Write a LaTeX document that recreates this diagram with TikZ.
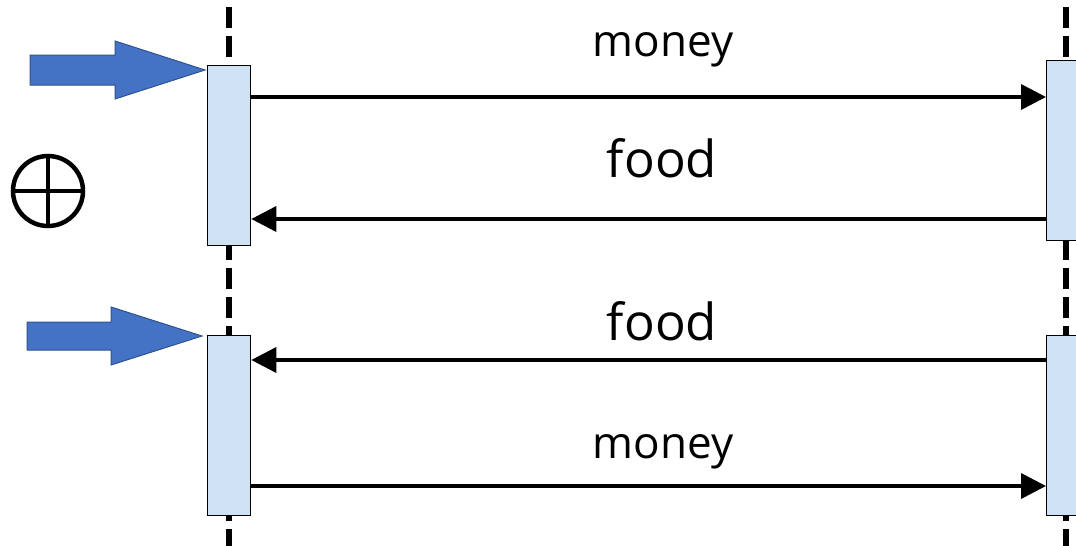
\documentclass[tikz,border=0pt]{standalone}
\usepackage{fontspec}
\setmainfont{Open Sans}
\usetikzlibrary{arrows.meta}
\definecolor{actfill}{HTML}{CFE2F3}
\definecolor{blkfill}{HTML}{4472C4}
\definecolor{blkline}{HTML}{2F528F}
\tikzset{
  lifeline/.style={line width=5.5pt, dash pattern=on 21pt off 8pt},
  activation/.style={draw=black, line width=1.3pt, fill=actfill, minimum width=43pt, minimum height=180pt, inner sep=0pt},
  msg/.style={line width=3.6pt, -{Triangle[length=25pt,width=25pt]}},
  blockarrow/.style={fill=blkfill, draw=blkline, line width=1pt},
  lbl/.style={inner sep=0pt, anchor=base},
  moneyfont/.style={font=\fontsize{44}{48}\selectfont},
  foodfont/.style={font=\fontsize{51}{56}\selectfont},
}
\begin{document}
\begin{tikzpicture}[x=1pt,y=-1pt]
\useasboundingbox (0,0) rectangle (1076,546);
\clip (0,0) rectangle (1076,546);

% lifelines
\coordinate (ltop) at (229,7);
\coordinate (lbot) at (229,546);
\coordinate (rtop) at (1066,7);
\coordinate (rbot) at (1066,546);
\draw[lifeline] (ltop) -- (lbot);
\draw[lifeline] (rtop) -- (rbot);

% activation bars
\node[activation, anchor=north west] (la1) at (207,65) {};
\node[activation, anchor=north west] (ra1) at (1046,60) {};
\node[activation, anchor=north west] (la2) at (207,335) {};
\node[activation, anchor=north west] (ra2) at (1046,335) {};

% messages
\draw[msg] (la1.east |- 0,97) -- (ra1.west |- 0,97);
\draw[msg] (ra1.west |- 0,219) -- (la1.east |- 0,219);
\draw[msg] (ra2.west |- 0,360) -- (la2.east |- 0,360);
\draw[msg] (la2.east |- 0,486) -- (ra2.west |- 0,486);

% labels
\node[lbl, moneyfont] (m1) at (663,56) {money};
\node[lbl, foodfont] (f1) at (662,177) {food};
\node[lbl, foodfont] (f2) at (662,340) {food};
\node[lbl, moneyfont] (m2) at (663,458) {money};

% incoming block arrows
\draw[blockarrow] (30,55) -- (115,55) -- (115,41) -- (205,70) -- (115,99) -- (115,85) -- (30,85) -- cycle;
\draw[blockarrow] (27,322) -- (111,322) -- (111,307) -- (202,336) -- (111,365) -- (111,350) -- (27,350) -- cycle;

% xor sign
\node[circle, draw=black, line width=4.5pt, minimum size=70pt, inner sep=0pt] (xo) at (48,191) {};
\draw[line width=4.5pt] (xo.north) -- (xo.south) (xo.west) -- (xo.east);
\end{tikzpicture}
\end{document}
